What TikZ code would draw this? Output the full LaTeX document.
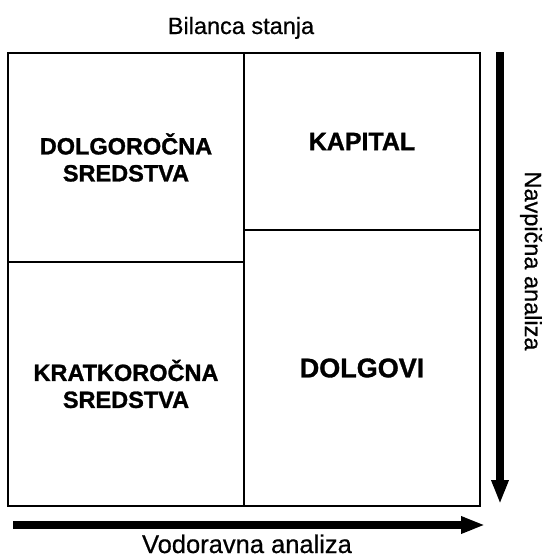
\documentclass[tikz,border=0pt]{standalone}
\usepackage{fontspec}
\setmainfont{Liberation Sans}
\newfontfamily\heavyfont{Liberation Sans Bold}[FakeBold=1.2]
\newfontfamily\capfont{Liberation Sans}[FakeBold=0.6]
\usetikzlibrary{arrows.meta}
\begin{document}
\begin{tikzpicture}[x=1pt,y=-1pt,
  cell/.style={draw=black,line width=2.8pt,rectangle,inner sep=0pt,align=center,
    font=\fontsize{23.5}{27}\selectfont\heavyfont},
  bigarrow/.style={line width=7.5pt,-{Triangle[length=24pt,width=16pt]}},
  caption/.style={font=\fontsize{23.5}{27}\selectfont\capfont,inner sep=0pt}]
\useasboundingbox (0,0) rectangle (546,560);
\node[cell,minimum width=236pt,minimum height=209pt] (ds) at (126,157.5) {DOLGOROČNA\\SREDSTVA};
\node[cell,minimum width=236pt,minimum height=177pt] (kap) at (362,141.5) {\fontsize{25}{27}\selectfont KAPITAL};
\node[cell,minimum width=236pt,minimum height=244pt] (ks) at (126,384) {KRATKOROČNA\\SREDSTVA};
\node[cell,minimum width=236pt,minimum height=276pt] (dol) at (362,368) {\fontsize{27}{27}\selectfont DOLGOVI};
\node[caption,anchor=base] (title) at (241,34) {Bilanca stanja};
\node[caption,anchor=base,font=\fontsize{25.5}{27}\selectfont\capfont] (hor) at (247,553) {Vodoravna analiza};
\node[caption,rotate=-90] (ver) at (531,261) {Navpična analiza};
\coordinate (va1) at (500,52);
\coordinate (va2) at (500,504);
\coordinate (ha1) at (13,525);
\coordinate (ha2) at (485,525);
\draw[bigarrow] (va1) -- (va2);
\draw[bigarrow] (ha1) -- (ha2);
\end{tikzpicture}
\end{document}
